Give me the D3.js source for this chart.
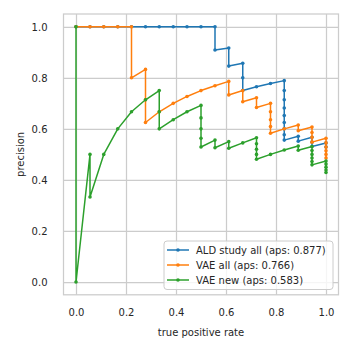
<!DOCTYPE html>
<html>
<head>
<meta charset="utf-8">
<script src="https://cdn.jsdelivr.net/npm/d3@7"></script>
<style>
  body { margin: 0; background: #fff; }
  svg { display: block; font-family: "DejaVu Sans", sans-serif; }
</style>
</head>
<body>
<svg id="chart" width="352" height="352"></svg>
<script>
// ---- data ----
const seriesNames = ["ALD study all (aps: 0.877)", "VAE all (aps: 0.766)", "VAE new (aps: 0.583)"];
const seriesColors = ["#1f77b4", "#ff7f0e", "#2ca02c"];

const aldRecall = [0, 0.056, 0.111, 0.167, 0.222, 0.278, 0.333, 0.389, 0.444, 0.5, 0.556, 0.556, 0.611, 0.611, 0.667, 0.667, 0.667, 0.722, 0.778, 0.833, 0.833, 0.833, 0.833, 0.833, 0.833, 0.833, 0.833, 0.833, 0.889, 0.889, 0.944, 0.944, 0.944, 1, 1];
const aldPrecision = [1, 1, 1, 1, 1, 1, 1, 1, 1, 1, 1, 0.909, 0.917, 0.846, 0.857, 0.8, 0.75, 0.765, 0.778, 0.789, 0.75, 0.714, 0.682, 0.652, 0.625, 0.6, 0.577, 0.556, 0.571, 0.552, 0.567, 0.548, 0.531, 0.545, 0.529];

const vaeAllRecall = [0, 0.056, 0.111, 0.167, 0.222, 0.222, 0.278, 0.278, 0.278, 0.333, 0.389, 0.444, 0.5, 0.556, 0.611, 0.611, 0.667, 0.667, 0.722, 0.722, 0.778, 0.778, 0.778, 0.778, 0.778, 0.833, 0.889, 0.889, 0.944, 0.944, 0.944, 0.944, 1, 1, 1, 1, 1, 1];
const vaeAllPrecision = [1, 1, 1, 1, 1, 0.8, 0.833, 0.714, 0.625, 0.667, 0.7, 0.727, 0.75, 0.769, 0.786, 0.733, 0.75, 0.706, 0.722, 0.684, 0.7, 0.667, 0.636, 0.609, 0.583, 0.6, 0.615, 0.593, 0.607, 0.586, 0.567, 0.548, 0.563, 0.545, 0.529, 0.514, 0.5, 0.486];

const vaeNewRecall = [0, 0, 0.056, 0.056, 0.111, 0.167, 0.222, 0.278, 0.333, 0.333, 0.333, 0.389, 0.444, 0.5, 0.5, 0.5, 0.5, 0.5, 0.556, 0.556, 0.611, 0.611, 0.667, 0.722, 0.722, 0.722, 0.722, 0.722, 0.778, 0.833, 0.889, 0.889, 0.944, 0.944, 0.944, 0.944, 0.944, 0.944, 1, 1, 1, 1, 1];
const vaeNewPrecision = [1, 0, 0.5, 0.333, 0.5, 0.6, 0.667, 0.714, 0.75, 0.667, 0.6, 0.636, 0.667, 0.692, 0.643, 0.6, 0.563, 0.529, 0.556, 0.526, 0.55, 0.524, 0.545, 0.565, 0.542, 0.52, 0.5, 0.481, 0.5, 0.517, 0.533, 0.516, 0.531, 0.515, 0.5, 0.486, 0.472, 0.459, 0.474, 0.462, 0.45, 0.439, 0.429];

const xTicks = [0, 0.2, 0.4, 0.6, 0.8, 1.0];
const yTicks = [0, 0.2, 0.4, 0.6, 0.8, 1.0];
const xLabel = "true positive rate";
const yLabel = "precision";

// ---- layout ----
const svg = d3.select("#chart");
const pLeft = 63.5, pRight = 338.5, pTop = 14, pBottom = 294.8;
const x = d3.scaleLinear().domain([-0.05, 1.05]).range([pLeft, pRight]);
const y = d3.scaleLinear().domain([-0.05, 1.05]).range([pBottom, pTop]);
const textColor = "#262626";
const gridColor = "#cccccc";

// grid + tick labels
const xAxis = svg.append("g")
  .attr("transform", `translate(0,${pBottom})`)
  .call(d3.axisBottom(x).tickValues(xTicks).tickFormat(d3.format(".1f"))
        .tickSize(-(pBottom - pTop)).tickPadding(14));
const yAxis = svg.append("g")
  .attr("transform", `translate(${pLeft},0)`)
  .call(d3.axisLeft(y).tickValues(yTicks).tickFormat(d3.format(".1f"))
        .tickSize(-(pRight - pLeft)).tickPadding(16));
[xAxis, yAxis].forEach(g => {
  g.select(".domain").remove();
  g.selectAll(".tick line").attr("stroke", gridColor).attr("stroke-width", 1.25);
  g.selectAll(".tick text").attr("fill", textColor).attr("font-size", 10)
    .attr("font-family", "DejaVu Sans");
});
yAxis.selectAll(".tick text").attr("dy", "0.35em");

// frame
svg.append("rect")
  .attr("x", pLeft).attr("y", pTop)
  .attr("width", pRight - pLeft).attr("height", pBottom - pTop)
  .attr("fill", "none").attr("stroke", gridColor).attr("stroke-width", 1.25);

// axis labels
svg.append("text").attr("x", (pLeft + pRight) / 2).attr("y", 332)
  .attr("text-anchor", "middle").attr("dominant-baseline", "central")
  .attr("font-size", 10).attr("fill", textColor).text(xLabel);
svg.append("text").attr("transform", `translate(20,${(pTop + pBottom) / 2}) rotate(-90)`)
  .attr("text-anchor", "middle").attr("dominant-baseline", "central")
  .attr("font-size", 10).attr("fill", textColor).text(yLabel);

// series
const series = [
  { name: seriesNames[0], color: seriesColors[0], r: aldRecall, p: aldPrecision },
  { name: seriesNames[1], color: seriesColors[1], r: vaeAllRecall, p: vaeAllPrecision },
  { name: seriesNames[2], color: seriesColors[2], r: vaeNewRecall, p: vaeNewPrecision }
];
const line = d3.line().x(d => x(d[0])).y(d => y(d[1]));
series.forEach(s => {
  const pts = s.r.map((v, i) => [v, s.p[i]]);
  const g = svg.append("g");
  g.append("path").datum(pts).attr("d", line)
    .attr("fill", "none").attr("stroke", s.color).attr("stroke-width", 1.5)
    .attr("stroke-linejoin", "round");
  g.selectAll("circle").data(pts).join("circle")
    .attr("cx", d => x(d[0])).attr("cy", d => y(d[1])).attr("r", 1.8)
    .attr("fill", s.color);
});

// legend
const lg = svg.append("g");
lg.append("rect").attr("x", 164).attr("y", 241).attr("width", 169).attr("height", 48.5)
  .attr("rx", 3).attr("fill", "white").attr("fill-opacity", 0.8)
  .attr("stroke", gridColor).attr("stroke-width", 1);
series.forEach((s, i) => {
  const yy = 250 + i * 15;
  lg.append("line").attr("x1", 167).attr("x2", 189).attr("y1", yy).attr("y2", yy)
    .attr("stroke", s.color).attr("stroke-width", 1.5);
  lg.append("circle").attr("cx", 178).attr("cy", yy).attr("r", 1.8).attr("fill", s.color);
  lg.append("text").attr("x", 196).attr("y", yy).attr("dominant-baseline", "central")
    .attr("font-size", 10).attr("fill", textColor).text(s.name);
});
</script>
</body>
</html>
